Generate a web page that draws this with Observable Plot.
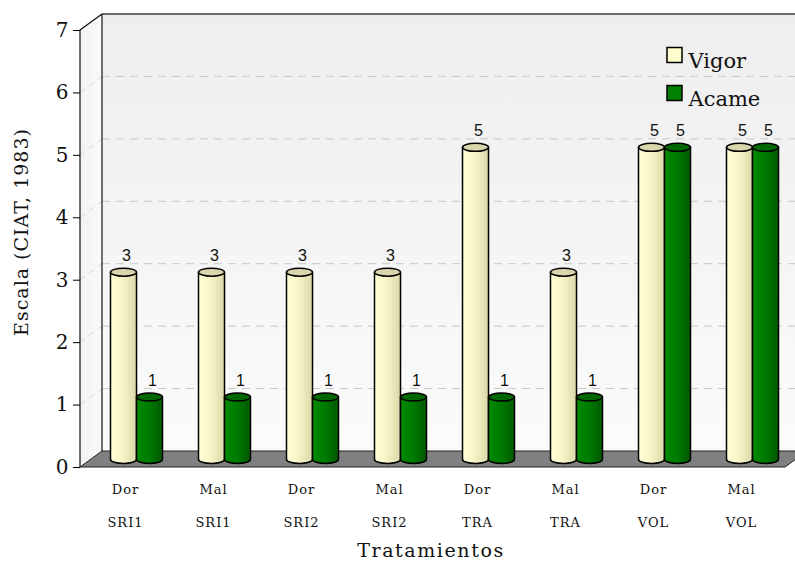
<!DOCTYPE html>
<html><head><meta charset="utf-8">
<script src="https://cdn.jsdelivr.net/npm/d3@7"></script>
<script src="https://cdn.jsdelivr.net/npm/@observablehq/plot@0.6"></script>
<style>body{margin:0;background:#fff}</style>
</head><body><div id="chart"></div>
<script>
// ---- data ----
const variedades = ["Dor","Mal","Dor","Mal","Dor","Mal","Dor","Mal"];
const sistemas = ["SRI1","SRI1","SRI2","SRI2","TRA","TRA","VOL","VOL"];
const vigor = [3,3,3,3,5,3,5,5];
const acame = [1,1,1,1,1,1,5,5];
const series = ["Vigor","Acame"];
const yTicks = [0,1,2,3,4,5,6,7];
const yLabel = "Escala (CIAT, 1983)";
const xLabel = "Tratamientos";

// ---- tables ----
const keys = variedades.map((v,i)=> v+" "+sistemas[i]);
const cats = keys.map((k,i)=>({key:k, v1: variedades[i], v2: sistemas[i]}));
const seriesData = [vigor, acame].map(vals => keys.map((k,i)=>({key:k, value: vals[i]})));

const DX = 22, DY = -16;           // depth offset of the back wall
const BDY = -8;                    // bars sit at mid depth
const RX = 13, RY = 4;
const ellipse = {
  draw(ctx) {
    const k = 0.5523;
    ctx.moveTo(RX,0);
    ctx.bezierCurveTo(RX, RY*k, RX*k, RY, 0, RY);
    ctx.bezierCurveTo(-RX*k, RY, -RX, RY*k, -RX, 0);
    ctx.bezierCurveTo(-RX, -RY*k, -RX*k, -RY, 0, -RY);
    ctx.bezierCurveTo(RX*k, -RY, RX, -RY*k, RX, 0);
    ctx.closePath();
  }
};
const styles = [
  {off:-2, body:"url(#gVigor)", top:"#d9d6ae", legend:"#ffffcc"},
  {off:24, body:"url(#gAcame)", top:"#006800", legend:"#008000"}
];

function cylinder(data, s) {
  return [
    Plot.dot(data, {x:"key", y:0, dx:s.off, dy:BDY, symbol:ellipse, r:5, fill:s.body, stroke:"black", strokeWidth:1.5}),
    Plot.barY(data, {x:"key", y:"value", dx:s.off, dy:BDY, insetLeft:(88.125-2*RX)/2, insetRight:(88.125-2*RX)/2, fill:s.body}),
    Plot.ruleX(data, {x:"key", y1:0, y2:"value", dx:s.off-RX, dy:BDY, stroke:"black", strokeWidth:1.5}),
    Plot.ruleX(data, {x:"key", y1:0, y2:"value", dx:s.off+RX, dy:BDY, stroke:"black", strokeWidth:1.5}),
    Plot.dot(data, {x:"key", y:"value", dx:s.off, dy:BDY, symbol:ellipse, r:5, fill:s.top, stroke:"black", strokeWidth:1.5}),
    Plot.text(data, {x:"key", y:"value", text:d=>String(d.value), dx:s.off+3, dy:BDY-16, fontSize:16, fontFamily:"Liberation Sans", fill:"#111"})
  ];
}

const plot = Plot.plot({
  width: 795, height: 565,
  marginLeft: 80, marginRight: 10, marginTop: 30, marginBottom: 98,
  x: {type:"band", domain: keys, padding: 0, axis: null},
  y: {domain: [0,7]},
  marks: [
    Plot.axisY({ticks: yTicks, tickFormat: "d", tickSize: 7, tickPadding: 5, fontSize: 20, fontFamily: "DejaVu Serif", label: null, fill:"#111"}),
    ...seriesData.flatMap((d,i)=> cylinder(d, styles[i])),
    Plot.text(cats, {x:"key", y:0, text:"v1", dy:22, fontSize:13, fontFamily:"DejaVu Serif", fill:"#111"}),
    Plot.text(cats, {x:"key", y:0, text:"v2", dy:55, fontSize:13, fontFamily:"DejaVu Serif", fill:"#111"}),
    Plot.text([xLabel], {frameAnchor:"bottom", textAnchor:"middle", dx:-2, dy:89, fontSize:19, fontFamily:"DejaVu Serif", fill:"#111"}),
    Plot.text([yLabel], {frameAnchor:"left", textAnchor:"middle", rotate:-90, dx:-59, dy:-17, fontSize:19, fontFamily:"DejaVu Serif", fill:"#111"}),
    ...series.map((s,i)=> Plot.dot([s], {frameAnchor:"top-right", dx:-111, dy:24.5+38*i, symbol:"square", r:8.46, fill:styles[i].legend, stroke:"black", strokeWidth:1.5})),
    ...series.map((s,i)=> Plot.text([s], {frameAnchor:"top-right", dx:-97, dy:23+38*i, textAnchor:"start", fontSize:21, fontFamily:"DejaVu Serif", fill:"#111"}))
  ]
});

document.getElementById("chart").appendChild(plot);

// ---- text spacing and 3D decoration built from the plot's own scales ----
const svg = d3.select(plot);
const catNames = new Set([...variedades, ...sistemas]);
svg.selectAll("text").filter(function(){ return this.textContent === xLabel; }).attr("letter-spacing", "1.6px");
svg.selectAll("text").filter(function(){ return this.textContent === yLabel; }).attr("letter-spacing", "1px");
svg.selectAll("text").filter(function(){ return catNames.has(this.textContent); }).attr("letter-spacing", "1px");
const defs = svg.append("defs");
function grad(id, stops, vertical) {
  const g = defs.append("linearGradient").attr("id", id)
    .attr("x1",0).attr("y1",0).attr("x2", vertical?0:1).attr("y2", vertical?1:0);
  stops.forEach(([o,c]) => g.append("stop").attr("offset",o).attr("stop-color",c));
}
grad("gVigor", [[0,"#ffffd6"],[0.4,"#f9f6ca"],[0.65,"#eeebbe"],[1,"#dcd9a8"]]);
grad("gAcame", [[0,"#008a00"],[0.45,"#007c00"],[0.7,"#006e00"],[1,"#005a00"]]);
grad("gBack", [[0,"#eeeeee"],[1,"#fbfbfb"]], true);
grad("gLeft", [[0,"#f2f2f2"],[1,"#fafafa"]]);

const sx = plot.scale("x"), sy = plot.scale("y");
const [x0, x1] = sx.range;
const ys = d3.scaleLinear(sy.domain, sy.range);
const y0 = ys(0), y7 = ys(7);
const deco = svg.insert("g", "g");
const poly = pts => pts.map(p=>p.join(",")).join(" ");
deco.append("rect").attr("x", x0+DX).attr("y", y7+DY).attr("width", x1-x0).attr("height", y0-y7).attr("fill","url(#gBack)");
deco.append("polygon").attr("points", poly([[x0,y0],[x0,y7],[x0+DX,y7+DY],[x0+DX,y0+DY]])).attr("fill","url(#gLeft)");
yTicks.filter(t=>t>0 && t<7).forEach(t=>{
  deco.append("line").attr("x1",x0+DX).attr("x2",x1+DX).attr("y1",ys(t)+DY).attr("y2",ys(t)+DY)
    .attr("stroke","#c8c8c8").attr("stroke-dasharray","8,6");
  deco.append("line").attr("x1",x0).attr("x2",x0+DX).attr("y1",ys(t)).attr("y2",ys(t)+DY)
    .attr("stroke","#d4d4d4").attr("stroke-dasharray","6,5");
});
deco.append("polygon").attr("points", poly([[x0,y0],[x1,y0],[x1+DX,y0+DY],[x0+DX,y0+DY]]))
  .attr("fill","#808080").attr("stroke","#222").attr("stroke-width",1);
deco.append("line").attr("x1",x0+DX).attr("x2",x1+DX).attr("y1",y7+DY).attr("y2",y7+DY).attr("stroke","#6a6a6a").attr("stroke-width",2);
deco.append("line").attr("x1",x0+DX).attr("x2",x0+DX).attr("y1",y7+DY).attr("y2",y0+DY).attr("stroke","#111").attr("stroke-width",1.2);
deco.append("line").attr("x1",x0).attr("x2",x0+DX).attr("y1",y7).attr("y2",y7+DY).attr("stroke","#111").attr("stroke-width",1.2);
deco.append("line").attr("x1",x0).attr("x2",x0).attr("y1",y7).attr("y2",y0).attr("stroke","#111").attr("stroke-width",1.2);
</script></body></html>
